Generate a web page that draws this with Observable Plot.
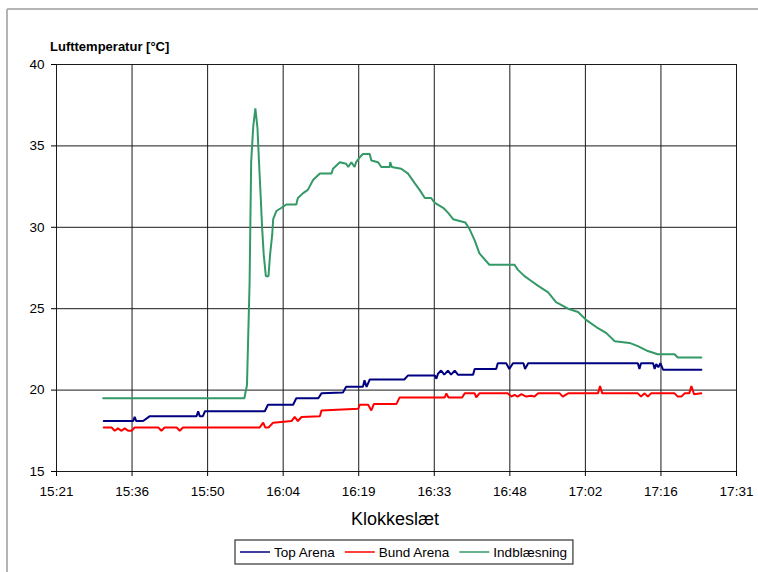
<!DOCTYPE html>
<html>
<head>
<meta charset="utf-8">
<script src="https://cdn.jsdelivr.net/npm/d3@7"></script>
<script src="https://cdn.jsdelivr.net/npm/@observablehq/plot@0.6"></script>
<style>
  html, body { margin: 0; padding: 0; background: #fff; }
  svg { display: block; }
</style>
</head>
<body>
<div id="chart"></div>
<script>
// Time is minutes after 15:00
const seriesNames = ["Top Arena", "Bund Arena", "Indblæsning"];
const seriesColors = ["#000080", "#ff0000", "#339966"];

const xTicks = [21.6, 36, 50.4, 64.8, 79.2, 93.6, 108, 122.4, 136.8, 151.2];
const xTickLabels = ["15:21","15:36","15:50","16:04","16:19","16:33","16:48","17:02","17:16","17:31"];
const yTicks = [15, 20, 25, 30, 35, 40];

const topTime = [30.6,36.2,36.5,36.8,38.1,39.4,48.3,48.6,48.9,49.5,49.9,61.3,61.9,66.7,67.3,71.5,72.1,76.2,76.8,80.0,80.3,80.7,81.3,87.9,88.6,93.7,94.0,94.3,94.9,95.5,96.2,96.8,97.5,98.1,101.0,101.3,105.4,105.7,107.3,107.9,108.6,110.6,110.9,111.5,132.4,132.7,133.0,135.3,135.6,135.9,136.3,136.7,137.2,144.5];
const topTemp = [18.1,18.1,18.35,18.1,18.1,18.4,18.4,18.7,18.4,18.4,18.7,18.7,19.1,19.1,19.5,19.5,19.8,19.85,20.2,20.2,20.6,20.2,20.65,20.65,20.9,20.9,20.7,21.0,21.2,20.95,21.2,20.95,21.2,20.95,20.95,21.3,21.3,21.65,21.65,21.3,21.65,21.65,21.3,21.65,21.65,21.3,21.65,21.65,21.3,21.6,21.4,21.65,21.25,21.25];

const bundTime = [30.6,32.1,32.7,33.3,34.0,34.6,35.3,35.9,36.5,41.0,41.6,42.2,44.5,45.1,45.7,60.3,61.0,61.4,62.0,62.9,66.4,67.0,67.6,68.3,71.8,72.1,79.1,79.4,81.0,81.6,82.1,86.4,87.0,95.6,95.9,96.3,98.9,99.4,101.3,101.6,102.2,107.6,108.3,108.9,109.5,110.2,111.1,112.1,112.7,113.4,117.5,118.1,119.1,124.8,125.2,125.6,132.4,133.0,133.7,134.3,134.9,139.4,140.0,140.7,141.3,142.2,142.6,143.1,144.5];
const bundTemp = [17.7,17.7,17.5,17.65,17.5,17.65,17.5,17.5,17.7,17.7,17.5,17.7,17.7,17.5,17.7,17.7,18.0,17.7,17.7,18.0,18.1,18.35,18.1,18.35,18.4,18.75,18.85,19.1,19.1,18.75,19.15,19.15,19.55,19.55,19.8,19.55,19.55,19.8,19.8,19.55,19.8,19.8,19.6,19.7,19.6,19.75,19.6,19.65,19.6,19.8,19.8,19.6,19.8,19.8,20.25,19.8,19.8,19.6,19.8,19.6,19.8,19.8,19.6,19.6,19.8,19.8,20.25,19.75,19.8];

const indTime = [30.5,57.4,57.9,58.4,58.7,59.1,59.5,59.9,60.2,60.5,60.8,61.1,61.5,62.0,62.3,62.7,62.9,63.5,64.5,65.4,67.3,67.6,68.6,69.5,70.5,71.8,74.0,74.3,75.6,76.8,77.2,77.8,78.4,78.7,79.4,80.0,81.3,81.6,82.9,83.5,85.1,85.2,85.5,87.3,88.6,89.9,90.8,91.8,93.0,93.7,95.3,96.2,97.2,99.5,100.3,101.3,102.2,104.1,108.9,109.5,110.8,112.1,113.4,115.3,116.8,119.1,121.0,122.6,124.8,126.4,128.0,130.8,132.4,134.3,136.2,139.4,140.0,144.5];
const indTemp = [19.5,19.5,20.3,26.6,34.0,36.2,37.3,36.1,34.0,32.0,29.9,28.3,27.0,27.0,28.3,29.5,30.5,31.0,31.2,31.4,31.4,31.8,32.1,32.3,32.9,33.3,33.3,33.6,34.0,33.9,33.7,34.0,33.7,34.0,34.3,34.5,34.5,34.1,34.0,33.7,33.7,34.0,33.7,33.6,33.3,32.7,32.3,31.8,31.8,31.5,31.2,30.9,30.5,30.3,29.9,29.2,28.4,27.7,27.7,27.4,27.0,26.7,26.4,26.0,25.4,25.0,24.8,24.3,23.8,23.5,23.0,22.9,22.7,22.4,22.2,22.2,22.0,22.0];

const rows = [];
topTime.forEach((t, i) => rows.push({series: seriesNames[0], t, v: topTemp[i]}));
bundTime.forEach((t, i) => rows.push({series: seriesNames[1], t, v: bundTemp[i]}));
indTime.forEach((t, i) => rows.push({series: seriesNames[2], t, v: indTemp[i]}));

const font = "'Liberation Sans', Arial, sans-serif";

const chart = Plot.plot({
  width: 758,
  height: 572,
  marginLeft: 56,
  marginRight: 22,
  marginTop: 64,
  marginBottom: 101,
  style: {fontFamily: font, fontSize: "13px", color: "#000", background: "#fff"},
  x: {domain: [21.6, 151.2]},
  y: {domain: [15, 40]},
  color: {domain: seriesNames, range: seriesColors},
  marks: [
    Plot.gridX(xTicks, {stroke: "#1a1a1a", strokeOpacity: 1, strokeWidth: 1}),
    Plot.gridY(yTicks, {stroke: "#1a1a1a", strokeOpacity: 1, strokeWidth: 1}),
    Plot.axisX(xTicks, {tickSize: 5, tickPadding: 10, label: null, fontSize: 13.5,
      tickFormat: d => xTickLabels[xTicks.indexOf(d)]}),
    Plot.axisY(yTicks, {tickSize: 5, tickPadding: 7, label: null, fontSize: 13.5}),
    Plot.line(rows, {x: "t", y: "v", z: "series", stroke: "series", strokeWidth: 2, strokeLinejoin: "miter"})
  ]
});

document.getElementById("chart").appendChild(chart);

const svg = d3.select(chart);

// outer frame (top/left)
svg.append("line").attr("x1", 7).attr("x2", 758).attr("y1", 9).attr("y2", 9)
  .attr("stroke", "#b4b4b4").attr("stroke-width", 2);
svg.append("line").attr("x1", 7).attr("x2", 7).attr("y1", 9).attr("y2", 572)
  .attr("stroke", "#b4b4b4").attr("stroke-width", 2);

// y title
svg.append("text").attr("x", 50).attr("y", 51).attr("text-anchor", "start")
  .attr("font-family", font).attr("font-weight", "bold").attr("font-size", 13)
  .text("Lufttemperatur [°C]");

// x title
svg.append("text").attr("x", 395).attr("y", 525).attr("text-anchor", "middle")
  .attr("font-family", font).attr("font-size", 18)
  .text("Klokkeslæt");

// legend
const lg = svg.append("g");
const box = lg.append("rect").attr("x", 235).attr("y", 540).attr("height", 24)
  .attr("fill", "#fff").attr("stroke", "#333").attr("stroke-width", 1.2);
let cx = 240;
seriesNames.forEach((name, i) => {
  lg.append("line").attr("x1", cx).attr("x2", cx + 30).attr("y1", 552).attr("y2", 552)
    .attr("stroke", seriesColors[i]).attr("stroke-width", 1.5);
  const tx = lg.append("text").attr("x", cx + 34).attr("y", 557).attr("text-anchor", "start")
    .attr("font-family", font).attr("font-size", 13.5).text(name);
  const w = tx.node().getComputedTextLength();
  cx += 34 + w + 10;
});
box.attr("width", cx - 235 - 4);
</script>
</body>
</html>
